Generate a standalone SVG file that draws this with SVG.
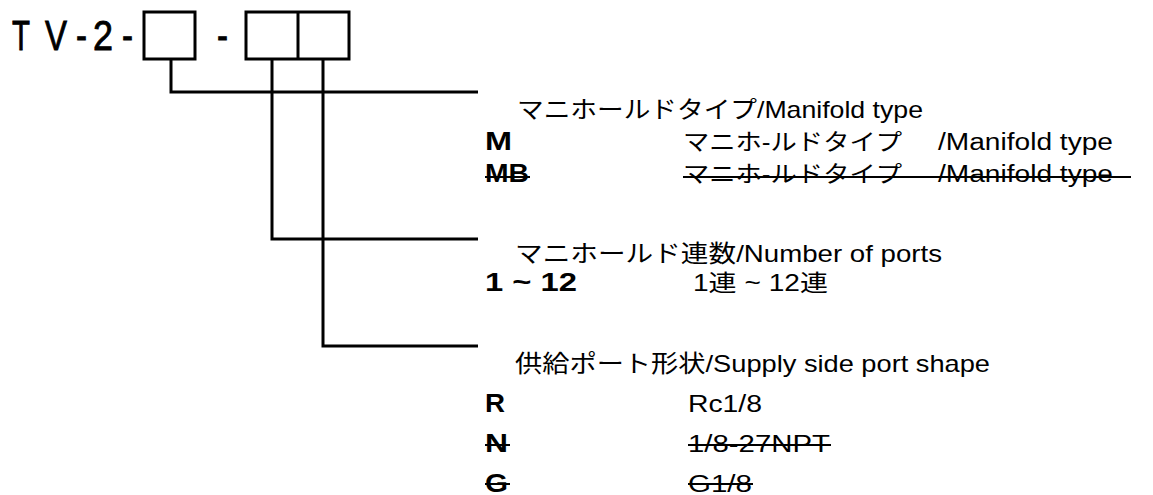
<svg xmlns="http://www.w3.org/2000/svg" width="1153" height="495" viewBox="0 0 1153 495">
<style>
.ln{stroke:#000;stroke-width:3;fill:none}
.st{stroke:#000;stroke-width:2;fill:none}
.t{font-family:"Liberation Sans","Noto Sans CJK JP",sans-serif;fill:#000}
.tt{font-size:43px;stroke:#000;stroke-width:0.9}
.h{font-size:24px}
.b{font-size:25px;font-weight:bold}
.d{font-size:23px}
</style>
<rect width="1153" height="495" fill="#fff"/>
<g id="title">
<text class="t tt" x="12" y="50" textLength="18" lengthAdjust="spacingAndGlyphs">T</text>
<text class="t tt" x="45" y="50" textLength="22" lengthAdjust="spacingAndGlyphs">V</text>
<text class="t tt" x="76" y="50" textLength="11" lengthAdjust="spacingAndGlyphs">-</text>
<text class="t tt" x="93" y="50" textLength="20" lengthAdjust="spacingAndGlyphs">2</text>
<text class="t tt" x="122" y="50" textLength="11" lengthAdjust="spacingAndGlyphs">-</text>
<text class="t tt" x="217" y="50" textLength="11" lengthAdjust="spacingAndGlyphs">-</text>
</g>
<g id="box1"><rect class="ln" x="144" y="12" width="51" height="47"/></g>
<g id="box2"><rect class="ln" x="246" y="12" width="103" height="47"/><line class="ln" x1="298" y1="12" x2="298" y2="59"/></g>
<g id="connectors">
<polyline class="ln" points="171,59 171,92 478,92"/>
<polyline class="ln" points="272,59 272,239 478,239"/>
<polyline class="ln" points="323,59 323,346 478,346"/>
</g>
<g id="group-manifold-type">
<text class="t h" x="517" y="118" textLength="406" lengthAdjust="spacingAndGlyphs">マニホールドタイプ/Manifold type</text>
<text class="t b" x="485" y="150" textLength="27" lengthAdjust="spacingAndGlyphs">M</text>
<text class="t d" x="683" y="150" textLength="219" lengthAdjust="spacingAndGlyphs">マニホ-ルドタイプ</text>
<text class="t d" x="938" y="150" textLength="175" lengthAdjust="spacingAndGlyphs">/Manifold type</text>
<text class="t b" x="485" y="182" textLength="44" lengthAdjust="spacingAndGlyphs">MB</text>
<text class="t d" x="683" y="182" textLength="219" lengthAdjust="spacingAndGlyphs">マニホ-ルドタイプ</text>
<text class="t d" x="938" y="182" textLength="175" lengthAdjust="spacingAndGlyphs">/Manifold type</text>
<line class="st" x1="485" y1="177" x2="530" y2="177"/>
<line class="st" x1="683" y1="177" x2="1131" y2="177"/>
</g>
<g id="group-ports">
<text class="t h" x="515" y="262" textLength="427" lengthAdjust="spacingAndGlyphs">マニホールド連数/Number of ports</text>
<text class="t b" x="485" y="291" textLength="92" lengthAdjust="spacingAndGlyphs">1 ~ 12</text>
<text class="t d" x="693" y="291" textLength="135" lengthAdjust="spacingAndGlyphs">1連 ~ 12連</text>
</g>
<g id="group-supply">
<text class="t h" x="515" y="372" textLength="475" lengthAdjust="spacingAndGlyphs">供給ポート形状/Supply side port shape</text>
<text class="t b" x="485" y="412" textLength="20" lengthAdjust="spacingAndGlyphs">R</text>
<text class="t d" x="688" y="412" textLength="74" lengthAdjust="spacingAndGlyphs">Rc1/8</text>
<text class="t b" x="485" y="452" textLength="23" lengthAdjust="spacingAndGlyphs">N</text>
<text class="t d" x="688" y="452" textLength="142" lengthAdjust="spacingAndGlyphs">1/8-27NPT</text>
<line class="st" x1="485" y1="445" x2="510" y2="445"/>
<line class="st" x1="688" y1="445" x2="831" y2="445"/>
<text class="t b" x="485" y="492" textLength="23" lengthAdjust="spacingAndGlyphs">G</text>
<text class="t d" x="688" y="492" textLength="64" lengthAdjust="spacingAndGlyphs">G1/8</text>
<line class="st" x1="485" y1="484" x2="510" y2="484"/>
<line class="st" x1="688" y1="484" x2="753" y2="484"/>
</g>
</svg>
